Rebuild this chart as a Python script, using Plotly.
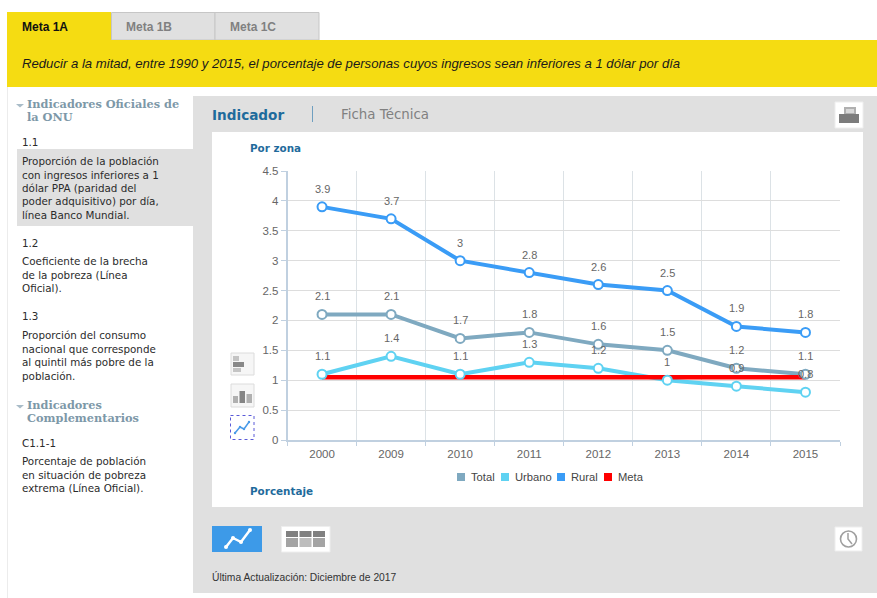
import plotly.graph_objects as go

W, H = 877, 598

# Chart data
years = ["2000", "2009", "2010", "2011", "2012", "2013", "2014", "2015"]
total = [2.1, 2.1, 1.7, 1.8, 1.6, 1.5, 1.2, 1.1]
urbano = [1.1, 1.4, 1.1, 1.3, 1.2, 1, 0.9, 0.8]
rural = [3.9, 3.7, 3, 2.8, 2.6, 2.5, 1.9, 1.8]
meta = [1.05, 1.05, 1.05, 1.05, 1.05, 1.05, 1.05, 1.05]

y_ticks = [0, 0.5, 1, 1.5, 2, 2.5, 3, 3.5, 4, 4.5]
tab_labels = ["Meta 1A", "Meta 1B", "Meta 1C"]

COL_TOTAL = "#7fa9c0"
COL_URBANO = "#5fd2f2"
COL_RURAL = "#3a9cf6"
COL_META = "#ff0000"
YELLOW = "#f5dc12"
PANEL = "#e0e0e0"
BLUE_TITLE = "#1f6b9c"
SERIF_GREY = "#7d98a8"
SANS = "Liberation Sans, Arial, sans-serif"
VERD = "DejaVu Sans, Verdana, sans-serif"
SERIF = "DejaVu Serif, serif"


def px(x):
    return x / W


def py(y):
    return 1 - y / H


shapes = []
annotations = []


def rect(x0, y0, x1, y1, fill, line=None, width=1, dash=None):
    shapes.append(dict(
        type="rect", xref="paper", yref="paper", layer="below",
        x0=px(x0), x1=px(x1), y0=py(y0), y1=py(y1), fillcolor=fill,
        line=dict(color=line or fill, width=width if line else 0, dash=dash),
    ))


def poly(points, fill=None, line=None, width=1):
    d = "M" + " L".join(f"{px(a):.5f},{py(b):.5f}" for a, b in points)
    if fill:
        d += " Z"
    shapes.append(dict(
        type="path", xref="paper", yref="paper", layer="below", path=d,
        fillcolor=fill or "rgba(0,0,0,0)",
        line=dict(color=line or "rgba(0,0,0,0)", width=width if line else 0),
    ))


def dot(x, y, r, fill, line=None, width=1):
    shapes.append(dict(
        type="circle", xref="paper", yref="paper", layer="below",
        x0=px(x - r), x1=px(x + r), y0=py(y - r), y1=py(y + r),
        fillcolor=fill, line=dict(color=line or fill, width=width if line else 0),
    ))


def label(x, y, text, size=11, color="#222", family=SANS, anchor="left"):
    annotations.append(dict(
        xref="paper", yref="paper", x=px(x), y=py(y), text=text, showarrow=False,
        xanchor=anchor, yanchor="middle", align="left",
        font=dict(size=size, color=color, family=family),
        borderpad=0, borderwidth=0,
    ))


def lines(x, y0, texts, step=13.5):
    for i, t in enumerate(texts):
        label(x, y0 + i * step, t, size=10.35, color="#2b2b2b", family=VERD)


# Tabs and yellow banner
rect(7, 12, 111, 41, YELLOW)
rect(111.5, 12.5, 215, 40, PANEL, "#c6c6c6")
rect(215, 12.5, 319, 40, PANEL, "#c6c6c6")
rect(7, 40, W, 87, YELLOW)
label(22, 27, f"<b>{tab_labels[0]}</b>", size=12, color="#111")
label(126, 27, f"<b>{tab_labels[1]}</b>", size=12, color="#808080")
label(230, 27, f"<b>{tab_labels[2]}</b>", size=12, color="#808080")
label(22, 63,
      "<i>Reducir a la mitad, entre 1990 y 2015, el porcentaje de personas "
      "cuyos ingresos sean inferiores a 1 dólar por día</i>",
      size=13.15, color="#1a1a1a")

# Sidebar
rect(7, 87, 8, H, "#ececec")
rect(17, 149, 193, 226, PANEL)
poly([(16, 104), (24, 104), (20, 107.5)], fill="#a9bcc8")
label(27, 104, "<b>Indicadores Oficiales de</b>", size=11.3, color=SERIF_GREY, family=SERIF)
label(27, 117, "<b>la ONU</b>", size=11.3, color=SERIF_GREY, family=SERIF)
lines(22, 142, ["1.1"])
lines(22, 161, ["Proporción de la población", "con ingresos inferiores a 1",
                "dólar PPA (paridad del", "poder adquisitivo) por día,",
                "línea Banco Mundial."])
lines(22, 243, ["1.2"])
lines(22, 261, ["Coeficiente de la brecha", "de la pobreza (Línea", "Oficial)."])
lines(22, 316, ["1.3"])
lines(22, 335, ["Proporción del consumo", "nacional que corresponde",
                "al quintil más pobre de la", "población."])
poly([(16, 405), (24, 405), (20, 408.5)], fill="#a9bcc8")
label(27, 405, "<b>Indicadores</b>", size=11.3, color=SERIF_GREY, family=SERIF)
label(27, 418, "<b>Complementarios</b>", size=11.3, color=SERIF_GREY, family=SERIF)
lines(22, 443, ["C1.1-1"])
lines(22, 461, ["Porcentaje de población", "en situación de pobreza",
                "extrema (Línea Oficial)."])

# Main panel
rect(193, 96, W, 593, PANEL)
rect(212, 132, 863, 507, "#ffffff")
label(212, 115, "<b>Indicador</b>", size=13.6, color=BLUE_TITLE, family=VERD)
rect(312, 106, 313, 122, "#6f9fc0")
label(341, 115, "Ficha Técnica", size=13.4, color="#808080", family=VERD)
label(250, 148, "<b>Por zona</b>", size=10.4, color=BLUE_TITLE, family=VERD)
label(250, 491, "<b>Porcentaje</b>", size=10.4, color=BLUE_TITLE, family=VERD)
label(212, 577, "Última Actualización: Diciembre de 2017", size=10.3, color="#333")

# Print button
rect(835, 102, 863, 128, "#ffffff", "#eeeeee")
rect(844, 107, 856, 115, "#b0b0b0")
rect(846, 109, 854, 113, "#d8d8d8")
rect(839, 114, 859, 123, "#7c7c7c")

# Chart-type icons
rect(231, 353, 254, 375, "#f6f6f6", "#dcdcdc")
rect(233, 356, 239, 361, "#c4c4c4")
rect(233, 362, 244, 367, "#888888")
rect(233, 368, 241, 372, "#c4c4c4")
rect(231, 384, 254, 407, "#f6f6f6", "#dcdcdc")
rect(233, 396, 238, 403, "#b0b0b0")
rect(239.5, 391, 245, 403, "#858585")
rect(246.5, 394, 252, 403, "#b0b0b0")
rect(230.5, 415.5, 254, 439.5, "#ffffff", "#5a5ad8", 1, "dot")
poly([(235, 433), (240, 427), (244, 429), (249, 422)], line="#4a9be8", width=1.5)
for a, b in [(235, 433), (240, 427), (244, 429), (249, 422)]:
    dot(a, b, 1.2, "#4a9be8")

# View buttons at the foot of the panel
rect(212, 526, 262, 552, "#3d9ae8")
poly([(226, 547), (233, 538), (241, 542), (250, 530)], line="#ffffff", width=2.5)
for a, b in [(226, 547), (233, 538), (241, 542), (250, 530)]:
    dot(a, b, 2, "#ffffff")
rect(281.5, 526.5, 330, 552, "#ffffff", "#eeeeee")
for i, x0 in enumerate([286, 299.5, 313]):
    rect(x0, 531, x0 + 12, 537, "#808080")
    rect(x0, 538, x0 + 12, 547, "#bdbdbd" if i == 1 else "#a4a4a4")

# Clock button
rect(835, 527, 862, 551, "#ffffff", "#eeeeee")
dot(848.5, 539, 8, "#ffffff", "#a0a0a0", 1.6)
poly([(848, 533), (848, 539), (852, 544)], line="#a0a0a0", width=1.5)

# Legend
legend_items = [(461, "Total", COL_TOTAL), (505, "Urbano", COL_URBANO),
                (561, "Rural", COL_RURAL), (608, "Meta", COL_META)]
for x, name, col in legend_items:
    rect(x - 4, 473, x + 4, 481, col)
    label(x + 10, 477, name, size=11.2, color="#444")

fig = go.Figure()

series = [("Total", total, COL_TOTAL), ("Urbano", urbano, COL_URBANO), ("Rural", rural, COL_RURAL)]

# Series lines, with the goal line over them and the open markers on top
for name, vals, col in series:
    fig.add_trace(go.Scatter(x=years, y=vals, mode="lines", name=name, showlegend=False,
                             line=dict(color=col, width=4)))
fig.add_trace(go.Scatter(x=years, y=meta, mode="lines", name="Meta", showlegend=False,
                         line=dict(color=COL_META, width=4.5)))
for name, vals, col in series:
    fig.add_trace(go.Scatter(x=years, y=vals, mode="markers", name=name, showlegend=False,
                             marker=dict(size=9, color="#ffffff", line=dict(color=col, width=2))))

# Value labels above each point; category positions go by index on this axis
for _, vals, _col in series:
    for i, v in enumerate(vals):
        annotations.append(dict(
            xref="x", yref="y", x=i, y=v, text=str(v), showarrow=False,
            yshift=18, font=dict(size=11, color="#666666", family=SANS),
        ))

fig.update_layout(
    width=W, height=H, autosize=False,
    margin=dict(l=0, r=0, t=0, b=0, autoexpand=False),
    paper_bgcolor="#ffffff", plot_bgcolor="rgba(0,0,0,0)",
    showlegend=False, hovermode="closest",
    shapes=shapes, annotations=annotations,
    xaxis=dict(
        domain=[px(287.5), px(840)], type="category", categoryorder="array", categoryarray=years,
        range=[-0.5, 7.5], tickangle=0,
        tickson="boundaries", showgrid=True, gridcolor="#dce2e6", gridwidth=1,
        showline=True, linecolor="#c0d0e0", linewidth=1.5,
        ticks="outside", ticklen=4, tickcolor="#c0d0e0", tickwidth=1,
        tickfont=dict(size=11.5, color="#666666", family=SANS), ticklabelstandoff=2,
        zeroline=False, fixedrange=True,
    ),
    yaxis=dict(
        domain=[py(440), py(171)], range=[0, 4.5], tickvals=y_ticks,
        ticktext=[str(t) for t in y_ticks],
        showgrid=True, gridcolor="#dddddd", gridwidth=1,
        showline=True, linecolor="#c0d0e0", linewidth=1.5,
        ticks="outside", ticklen=5, tickcolor="#c0d0e0", tickwidth=1,
        tickfont=dict(size=11.5, color="#666666", family=SANS),
        zeroline=False, fixedrange=True,
    ),
)

fig.write_html("out.html", config=dict(displayModeBar=False))
